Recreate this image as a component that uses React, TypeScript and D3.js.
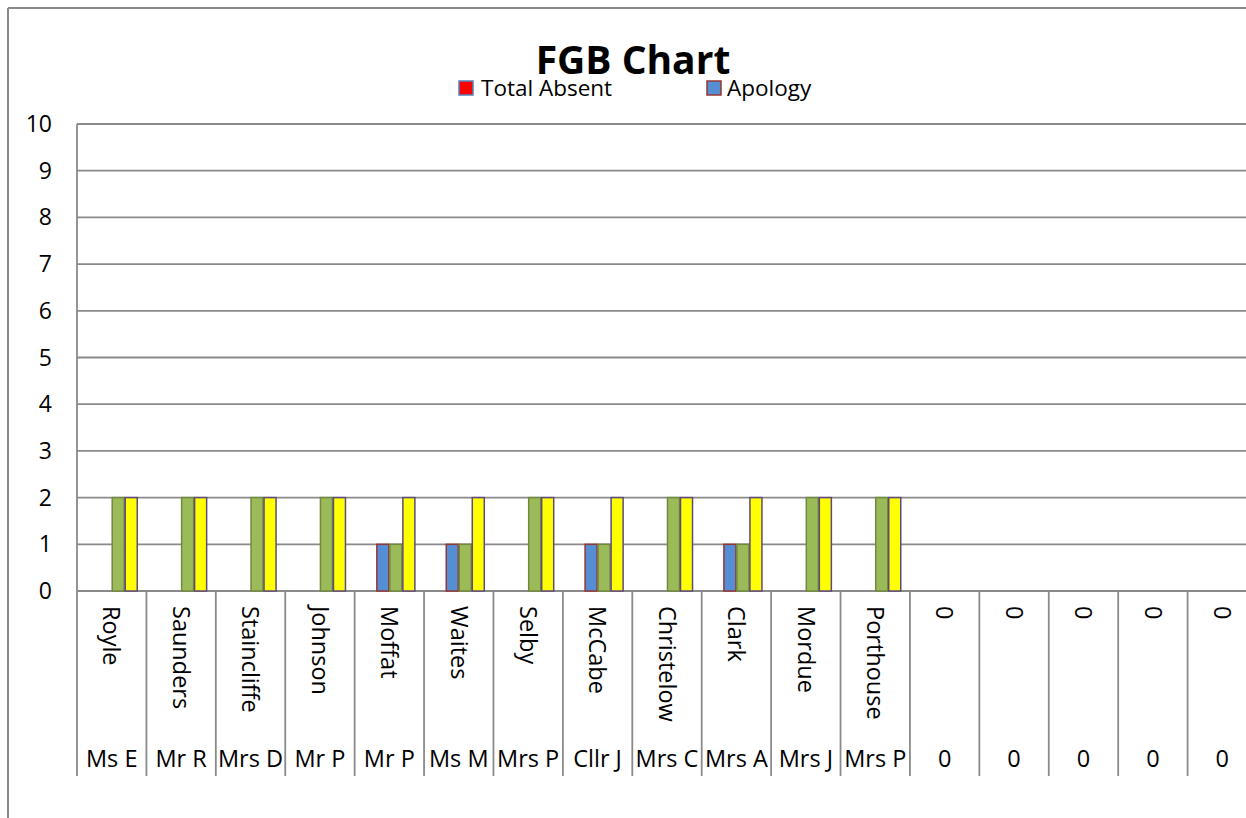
import * as d3 from "d3";

// category labels: surname (rotated) and title/initial (bottom row)
const surnames = ["Royle", "Saunders", "Staincliffe", "Johnson", "Moffat", "Waites", "Selby", "McCabe", "Christelow", "Clark", "Mordue", "Porthouse", "0", "0", "0", "0", "0"];
const titles = ["Ms E", "Mr R", "Mrs D", "Mr P", "Mr P", "Ms M", "Mrs P", "Cllr J", "Mrs C", "Mrs A", "Mrs J", "Mrs P", "0", "0", "0", "0", "0"];

// series values
const totalAbsent = [0, 0, 0, 0, 0, 0, 0, 0, 0, 0, 0, 0, 0, 0, 0, 0, 0];
const apology = [0, 0, 0, 0, 1, 1, 0, 1, 0, 1, 0, 0, 0, 0, 0, 0, 0];
const present = [2, 2, 2, 2, 1, 1, 2, 1, 2, 1, 2, 2, 0, 0, 0, 0, 0];
const meetings = [2, 2, 2, 2, 2, 2, 2, 2, 2, 2, 2, 2, 0, 0, 0, 0, 0];

const yTicks = [0, 1, 2, 3, 4, 5, 6, 7, 8, 9, 10];

const series = [
  { key: "Total Absent", values: totalAbsent, fill: "#FF0000", stroke: "#4F81BD" },
  { key: "Apology", values: apology, fill: "#558ED5", stroke: "#953735" },
  { key: "Present", values: present, fill: "#9BBB59", stroke: "#71893F" },
  { key: "Meetings", values: meetings, fill: "#FFFF00", stroke: "#604A7B" },
];

const W = 1246;
const H = 818;
const font = "'Open Sans', 'Noto Sans', sans-serif";
const grid = "#8a8a8a";

export default function App() {
  const idx = surnames.map((_, i) => i);
  const x = d3.scaleBand<number>().domain(idx).range([77, 1257]).padding(0);
  const bw = x.bandwidth();
  const xs = d3
    .scaleBand<string>()
    .domain(series.map((s) => s.key))
    .range([bw * 0.125, bw * 0.875]);
  const y = d3.scaleLinear().domain([0, 10]).range([591, 124]);

  return (
    <svg
      width={W}
      height={H}
      style={{ position: "absolute", left: 0, top: 0, background: "#fff" }}
      fontFamily={font}
    >
      {/* outer frame */}
      <line x1={8} x2={W} y1={8} y2={8} stroke={grid} strokeWidth={2} />
      <line x1={8} x2={8} y1={8} y2={H} stroke={grid} strokeWidth={2} />

      {/* title + legend */}
      <text x={633} y={74} textAnchor="middle" fontSize={39} fontWeight="bold">
        FGB Chart
      </text>
      <rect x={459} y={81} width={14} height={14} fill="#FF0000" stroke="#4F81BD" strokeWidth={1.5} />
      <text x={481} y={96} fontSize={22.5}>Total Absent</text>
      <rect x={707} y={81} width={14} height={14} fill="#558ED5" stroke="#953735" strokeWidth={1.5} />
      <text x={727} y={96} fontSize={22.5}>Apology</text>

      {/* gridlines and y labels */}
      {yTicks.map((t) => (
        <g key={t}>
          <line x1={77} x2={1257} y1={y(t)} y2={y(t)} stroke={grid} strokeWidth={1.8} />
          <text x={52} y={y(t) + 8} textAnchor="end" fontSize={23}>
            {t}
          </text>
        </g>
      ))}

      {/* bars */}
      {series.map((s) =>
        s.values.map((v, i) =>
          v > 0 ? (
            <rect
              key={s.key + i}
              x={(x(i) as number) + (xs(s.key) as number) + 0.5}
              y={y(v)}
              width={xs.bandwidth() - 1}
              height={y(0) - y(v)}
              fill={s.fill}
              stroke={s.stroke}
              strokeWidth={1.5}
            />
          ) : null
        )
      )}

      {/* category axis */}
      <line x1={77} x2={77} y1={124} y2={776} stroke={grid} strokeWidth={1.8} />
      {idx.map((i) => {
        const x0 = x(i) as number;
        const cx = x0 + bw / 2;
        return (
          <g key={i}>
            <line x1={x0 + bw} x2={x0 + bw} y1={591} y2={776} stroke={grid} strokeWidth={1.8} />
            <text
              transform={`translate(${cx},606) rotate(90)`}
              dy="0.35em"
              fontSize={23.5}
            >
              {surnames[i]}
            </text>
            <text x={cx} y={767} textAnchor="middle" fontSize={23.5}>
              {titles[i]}
            </text>
          </g>
        );
      })}
    </svg>
  );
}
